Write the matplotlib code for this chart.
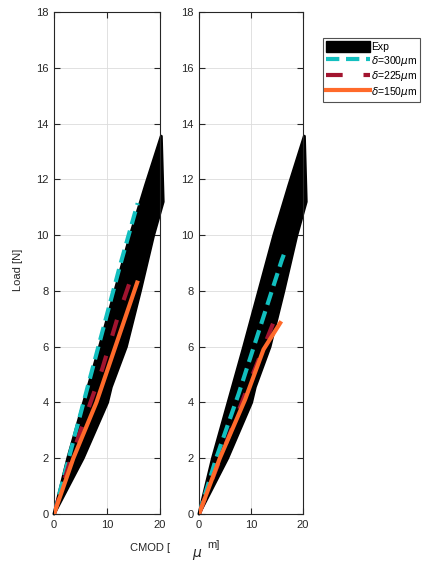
import numpy as np
import matplotlib.pyplot as plt
from matplotlib.patches import Patch
from matplotlib.lines import Line2D

plt.rcParams['font.family'] = ['Liberation Sans', 'DejaVu Sans']
plt.rcParams['mathtext.fontset'] = 'dejavusans'

# experimental envelope (upper and lower bounding curves)
exp_up_x = [0, 2.6, 5.6, 8.6, 11.5, 14.4, 17.3, 20.25]
exp_up_y = [0, 2.0, 4.0, 6.0, 8.0, 10.0, 11.8, 13.55]
exp_lo_x = [0, 5.5, 10.1, 10.8, 13.65, 16.3, 18.8, 20.6]
exp_lo_y = [0, 2.0, 4.0, 4.55, 6.0, 8.0, 10.0, 11.2]

# model curves, left panel
left_300_x = [0, 5.85, 12.45, 15.8]
left_300_y = [0, 4.2, 8.9, 11.15]
left_225_x = [0, 3.2, 9.1, 12.1, 15.1]
left_225_y = [0, 2.0, 5.2, 7.1, 8.75]
left_150_x = [0, 3.65, 8.0, 15.7]
left_150_y = [0, 2.0, 4.0, 8.3]

# model curves, right panel
right_300_x = [0, 3.3, 7.6, 15.9, 16.3]
right_300_y = [0, 2.0, 4.3, 9.1, 9.3]
right_225_x = [0, 4.1, 10.1, 14.6]
right_225_y = [0, 2.0, 4.9, 7.0]
right_150_x = [0, 4.0, 8.85, 12.4, 15.6]
right_150_y = [0, 2.0, 4.1, 5.9, 6.85]

labels = ['Exp', r'$\delta$=300$\mu$m', r'$\delta$=225$\mu$m', r'$\delta$=150$\mu$m']
yticks = list(range(0, 19, 2))
xticks = [0, 10, 20]

c_cyan = '#12bfbf'
c_red = '#a2142f'
c_orange = '#ff6a2a'
c_axis = '#262626'

fig = plt.figure(figsize=(4.22, 5.67), dpi=100)
ax1 = fig.add_axes([0.128, 0.0935, 0.251, 0.885])
ax2 = fig.add_axes([0.4716, 0.0935, 0.2465, 0.885])

curves = [
    (ax1, left_300_x, left_300_y, left_225_x, left_225_y, left_150_x, left_150_y),
    (ax2, right_300_x, right_300_y, right_225_x, right_225_y, right_150_x, right_150_y),
]

for ax, x3, y3, x2, y2, x1, y1 in curves:
    px = exp_up_x + exp_lo_x[::-1]
    py = exp_up_y + exp_lo_y[::-1]
    ax.fill(px, py, color='black', lw=2.2, joinstyle='round', clip_on=False, zorder=2)
    ax.plot(x3, y3, color=c_cyan, lw=3, dashes=(3.2, 1.6), zorder=3)
    ax.plot(x2, y2, color=c_red, lw=3, dashes=(4, 5), zorder=3)
    ax.plot(x1, y1, color=c_orange, lw=3, zorder=4)

    ax.set_xlim(0, 20)
    ax.set_ylim(0, 18)
    ax.set_xticks(xticks)
    ax.set_yticks(yticks)
    ax.grid(True, color='#dcdcdc', lw=0.6)
    ax.set_axisbelow(True)
    ax.tick_params(direction='in', length=4, width=0.8, top=True, right=True,
                   labelsize=8, colors=c_axis, pad=4)
    for s in ax.spines.values():
        s.set_color(c_axis)
        s.set_linewidth(0.8)

fig.text(18 / 422, 1 - 270 / 567, 'Load [N]', rotation=90, fontsize=8,
         color=c_axis, ha='center', va='center')
fig.text(130 / 422, 1 - 548 / 567, 'CMOD [', fontsize=8, color=c_axis,
         ha='left', va='center')
fig.text(197 / 422, 1 - 554 / 567, r'$\mu$', fontsize=10, color=c_axis,
         ha='center', va='center')
fig.text(207 / 422, 1 - 545 / 567, 'm]', fontsize=8, color=c_axis,
         ha='left', va='center')

handles = [
    Patch(facecolor='black', edgecolor='black'),
    Line2D([], [], color=c_cyan, lw=3, dashes=(3.2, 1.6)),
    Line2D([], [], color=c_red, lw=3, dashes=(4, 5)),
    Line2D([], [], color=c_orange, lw=3),
]
leg = fig.legend(handles, labels, loc='upper left',
                 bbox_to_anchor=(323 / 422, 1 - 38 / 567), fontsize=7.5,
                 frameon=True, fancybox=False, handlelength=4.2,
                 handleheight=1.2, handletextpad=0.1, borderpad=0.3,
                 labelspacing=0.15, borderaxespad=0)
leg.get_frame().set_edgecolor(c_axis)
leg.get_frame().set_linewidth(0.8)

fig.savefig('out.png', dpi=100)
